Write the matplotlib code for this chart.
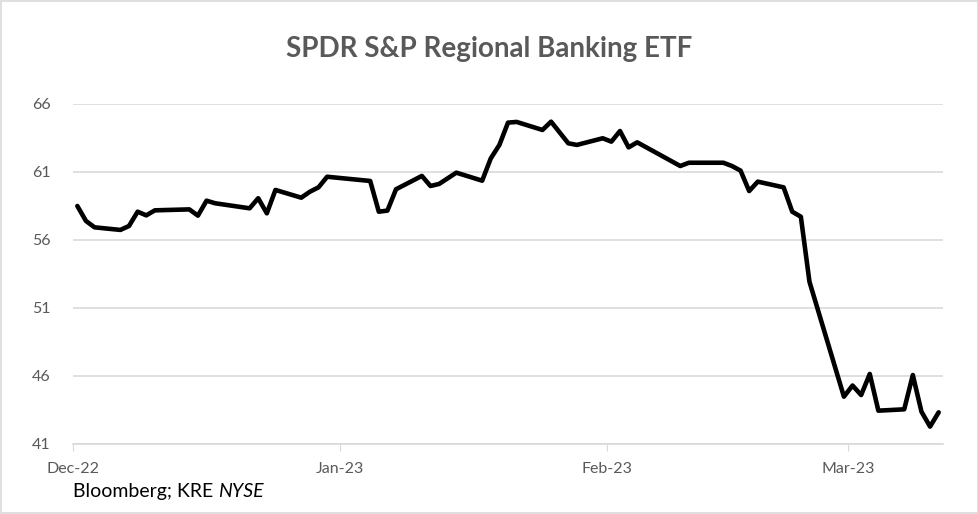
import pandas as pd
import matplotlib.pyplot as plt
import matplotlib.dates as mdates
from matplotlib.patches import Rectangle

# KRE closing prices
dates = [
    "2022-12-01", "2022-12-02", "2022-12-03", "2022-12-06", "2022-12-07",
    "2022-12-08", "2022-12-09", "2022-12-10", "2022-12-14", "2022-12-15",
    "2022-12-16", "2022-12-17", "2022-12-21", "2022-12-22", "2022-12-23",
    "2022-12-24", "2022-12-27", "2022-12-28", "2022-12-29", "2022-12-30",
    "2023-01-04", "2023-01-05", "2023-01-06", "2023-01-07", "2023-01-10",
    "2023-01-11", "2023-01-12", "2023-01-14", "2023-01-17", "2023-01-18",
    "2023-01-19", "2023-01-20", "2023-01-21", "2023-01-24", "2023-01-25",
    "2023-01-27", "2023-01-28", "2023-01-31", "2023-02-01", "2023-02-02",
    "2023-02-03", "2023-02-04", "2023-02-09", "2023-02-10", "2023-02-14",
    "2023-02-15", "2023-02-16", "2023-02-17", "2023-02-18", "2023-02-21",
    "2023-02-22", "2023-02-23", "2023-02-24", "2023-02-28", "2023-03-01",
    "2023-03-02", "2023-03-03", "2023-03-04", "2023-03-07", "2023-03-08",
    "2023-03-09", "2023-03-10", "2023-03-11",
]
prices = [
    58.50, 57.40, 56.93, 56.74, 57.03,
    58.08, 57.81, 58.18, 58.25, 57.79,
    58.89, 58.70, 58.33, 59.07, 57.96,
    59.68, 59.11, 59.55, 59.87, 60.65,
    60.34, 58.08, 58.16, 59.73, 60.71,
    59.97, 60.12, 60.95, 60.36, 62.00,
    62.99, 64.63, 64.68, 64.09, 64.70,
    63.11, 62.99, 63.48, 63.23, 64.01,
    62.81, 63.18, 61.44, 61.68, 61.68,
    61.44, 61.10, 59.60, 60.29, 59.87,
    58.08, 57.71, 52.93, 44.48, 45.30,
    44.60, 46.15, 43.45, 43.55, 46.07,
    43.38, 42.28, 43.33,
]
y_ticks = [41, 46, 51, 56, 61, 66]
month_ticks = ["2022-12-01", "2023-01-01", "2023-02-01", "2023-03-01"]

plt.rcParams['font.family'] = ['Lato', 'DejaVu Sans']

fig = plt.figure(figsize=(9.79, 5.14), dpi=100)
fig.patches.append(Rectangle((0.001, 0.001), 0.998, 0.997, transform=fig.transFigure,
                             fill=False, edgecolor="#d9d9d9", linewidth=1.2))

ax = fig.add_axes([0.0746, 0.1362, 0.8886, 0.6615])

# Excel-style date axis: each point sits in the middle of its day
x = pd.to_datetime(dates) + pd.Timedelta(hours=12)
ax.plot(x, prices, color="black", linewidth=3.3, solid_joinstyle="round",
        solid_capstyle="round", zorder=3)

ax.set_ylim(41, 66)
ax.set_yticks(y_ticks)
ax.set_xlim(pd.Timestamp("2022-12-01"), pd.Timestamp("2023-03-12"))
ax.set_xticks(pd.to_datetime(month_ticks))
ax.xaxis.set_major_formatter(mdates.DateFormatter("%b-%y"))

ax.grid(axis="y", color="#d9d9d9", linewidth=1.2)
ax.set_axisbelow(True)
for side in ["top", "right", "left"]:
    ax.spines[side].set_visible(False)
ax.spines["bottom"].set_color("#d9d9d9")
ax.spines["bottom"].set_linewidth(1.2)

ax.tick_params(axis="y", length=0, pad=16, labelsize=11.5, labelcolor="#595959")
ax.tick_params(axis="x", length=5, color="#d9d9d9", pad=8, labelsize=11.5,
               labelcolor="#595959")

fig.text(0.5, 0.905, "SPDR S&P Regional Banking ETF", ha="center", va="center",
         fontsize=20, fontweight="bold", color="#595959")
footer = fig.text(0.0746, 0.033, "Bloomberg; KRE ", ha="left", va="baseline",
                  fontsize=14, color="black")
fig.canvas.draw()
bb = footer.get_window_extent()
fig.text(bb.x1 / fig.bbox.width, 0.033, "NYSE", ha="left", va="baseline",
         fontsize=14, color="black", style="italic")

fig.savefig("out.png", dpi=100)
